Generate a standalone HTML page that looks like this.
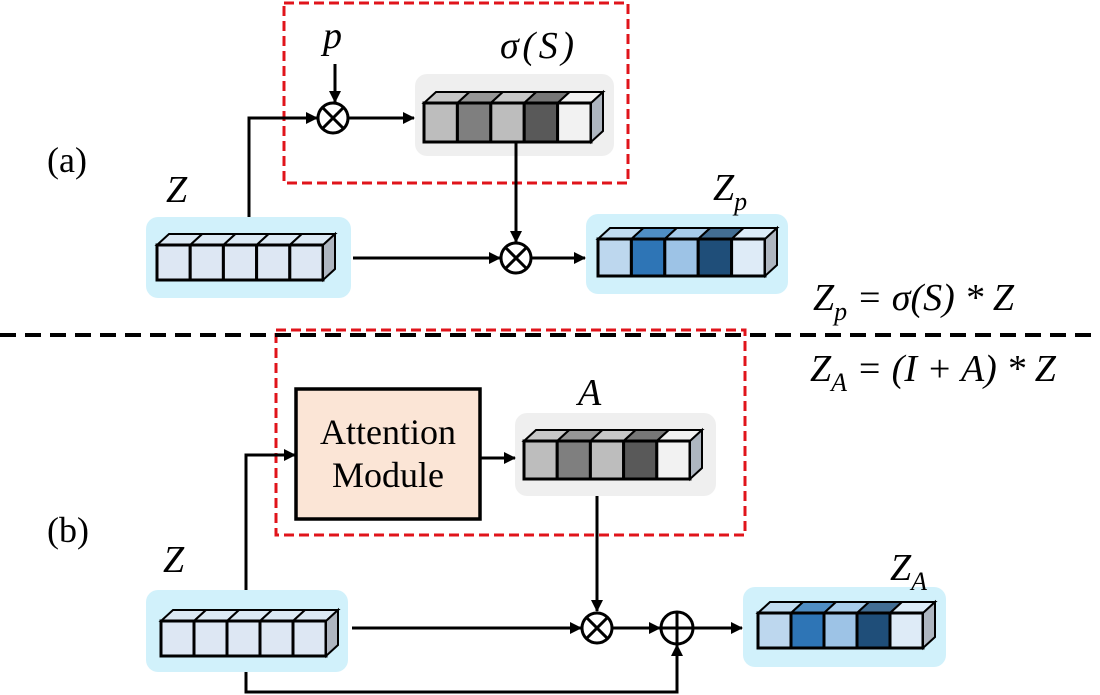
<!DOCTYPE html>
<html><head><meta charset="utf-8"><style>
html,body{margin:0;padding:0;background:#fff;}
svg{display:block;}
.m{font-family:"Liberation Serif",serif;font-style:italic;font-size:38px;fill:#000;}
.t{font-family:"Liberation Serif",serif;font-size:36px;fill:#000;}
.am{font-family:"Liberation Sans","Liberation Serif",serif;font-size:35px;fill:#000;}
</style></head><body>
<svg id="s" width="1100" height="695" viewBox="0 0 1100 695" xmlns="http://www.w3.org/2000/svg">
<defs>
<marker id="ar" markerWidth="12" markerHeight="12" refX="11" refY="6" orient="auto" markerUnits="userSpaceOnUse"><path d="M0,0 L12,6 L0,12 z" fill="#000"/></marker>
</defs>
<rect x="415" y="74" width="199" height="82" rx="12" fill="#efefef"/>
<rect x="146" y="217" width="205" height="81" rx="12" fill="#d1f1fb"/>
<rect x="586" y="214" width="202" height="80" rx="12" fill="#d1f1fb"/>
<rect x="515" y="413" width="201" height="83" rx="12" fill="#efefef"/>
<rect x="146" y="590" width="202" height="82" rx="12" fill="#d1f1fb"/>
<rect x="743" y="587" width="203" height="80" rx="12" fill="#d1f1fb"/>
<rect x="284" y="3" width="344" height="180" fill="none" stroke="#e0141b" stroke-width="3" stroke-dasharray="10,5"/>
<rect x="276" y="330" width="469" height="205" fill="none" stroke="#e0141b" stroke-width="3" stroke-dasharray="10,5"/>
<line x1="0" y1="335" x2="1100" y2="335" stroke="#000" stroke-width="4" stroke-dasharray="16,9"/>
<g id="blocks"></g>
<g stroke="#000" stroke-width="3" fill="none">
<line x1="335" y1="64" x2="335" y2="102" marker-end="url(#ar)"/>
<polyline points="249,217 249,118 317,118" marker-end="url(#ar)"/>
<circle cx="333" cy="118" r="15" fill="#fff"/>
<line x1="322" y1="107" x2="344" y2="129"/><line x1="344" y1="107" x2="322" y2="129"/>
<line x1="348" y1="118" x2="414" y2="118" marker-end="url(#ar)"/>
<line x1="516" y1="142" x2="516" y2="242" marker-end="url(#ar)"/>
<line x1="353" y1="258" x2="500" y2="258" marker-end="url(#ar)"/>
<circle cx="516" cy="258" r="15" fill="#fff"/>
<line x1="505" y1="247" x2="527" y2="269"/><line x1="527" y1="247" x2="505" y2="269"/>
<line x1="531" y1="258" x2="585" y2="258" marker-end="url(#ar)"/>
<rect x="296" y="389" width="184" height="130" fill="#fbe5d6" stroke-width="3.5"/>
<polyline points="246,590 246,455 295,455" marker-end="url(#ar)"/>
<line x1="481" y1="458" x2="515" y2="458" marker-end="url(#ar)"/>
<line x1="597" y1="496" x2="597" y2="611" marker-end="url(#ar)"/>
<line x1="352" y1="628" x2="581" y2="628" marker-end="url(#ar)"/>
<circle cx="597" cy="628" r="15" fill="#fff"/>
<line x1="586" y1="617" x2="608" y2="639"/><line x1="608" y1="617" x2="586" y2="639"/>
<line x1="612" y1="628" x2="660" y2="628" marker-end="url(#ar)"/>
<circle cx="677" cy="628" r="16" fill="#fff"/>
<line x1="661" y1="628" x2="693" y2="628"/><line x1="677" y1="612" x2="677" y2="644"/>
<polyline points="246,672 246,692 677,692 677,645" marker-end="url(#ar)"/>
<line x1="693" y1="628" x2="742" y2="628" marker-end="url(#ar)"/>
</g>
<text class="t" x="47" y="172">(a)</text>
<text class="t" x="47" y="542">(b)</text>
<text class="m" x="323" y="48">p</text>
<text class="m" x="500" y="58" textLength="74">σ(S)</text>
<text class="m" x="166" y="202">Z</text>
<text class="m" x="713" y="200">Z<tspan font-size="26" dy="10">p</tspan></text>
<text class="m" x="813" y="310">Z<tspan font-size="26" dy="10">p</tspan><tspan dy="-10"> = σ(S) * Z</tspan></text>
<text class="m" x="810" y="381">Z<tspan font-size="26" dy="10">A</tspan><tspan dy="-10"> = (I + A) * Z</tspan></text>
<text class="m" x="578" y="405">A</text>
<text class="m" x="163" y="572">Z</text>
<text class="m" x="890" y="580">Z<tspan font-size="26" dy="10">A</tspan></text>
<text class="t" x="388" y="444" text-anchor="middle">Attention</text>
<text class="t" x="388" y="487" text-anchor="middle">Module</text>
</svg>
<script>
function blk(x,y,w,h,cols){
  var g=document.getElementById('blocks'),dx=12,dy=-11,cw=w/cols.length,s='';
  for(var i=0;i<cols.length;i++){
    var a=x+i*cw;
    s+='<polygon points="'+a+','+y+' '+(a+dx)+','+(y+dy)+' '+(a+cw+dx)+','+(y+dy)+' '+(a+cw)+','+y+'" fill="'+cols[i]+'" fill-opacity="0.8" stroke="#000" stroke-width="2"/>';
    s+='<rect x="'+a+'" y="'+y+'" width="'+cw+'" height="'+h+'" fill="'+cols[i]+'" stroke="#000" stroke-width="3"/>';
  }
  s+='<polygon points="'+(x+w)+','+y+' '+(x+w+dx)+','+(y+dy)+' '+(x+w+dx)+','+(y+h+dy)+' '+(x+w)+','+(y+h)+'" fill="#aeb6c0" stroke="#000" stroke-width="2"/>';
  g.insertAdjacentHTML('beforeend',s);
}
var gr=['#bdbdbd','#7f7f7f','#bdbdbd','#595959','#f2f2f2'];
var bl=['#bdd7ee','#2e75b6','#9dc3e6','#1f4e79','#deebf7'];
var z=['#dde7f3','#dde7f3','#dde7f3','#dde7f3','#dde7f3'];
blk(424,103,167,39,gr);
blk(157,245,166,35,z);
blk(598,239,167,37,bl);
blk(524,441,166,38,gr);
blk(161,621,165,35,z);
blk(758,613,165,35,bl);
</script>
</body></html>
